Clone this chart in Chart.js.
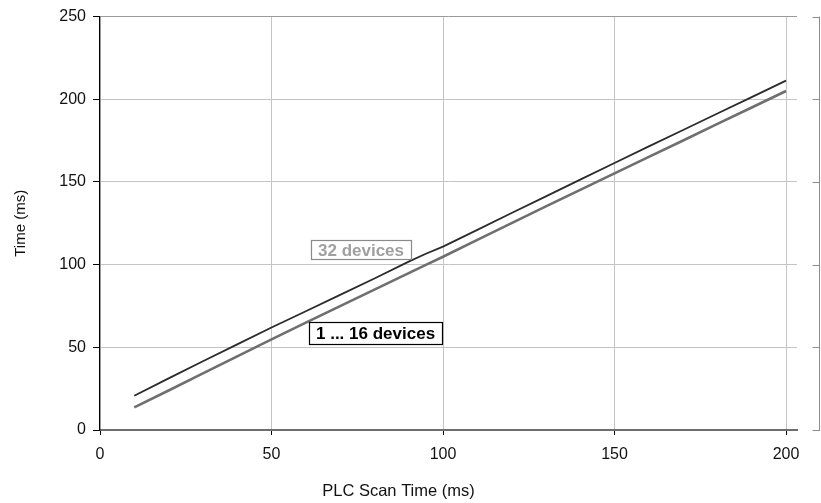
<!DOCTYPE html>
<html lang="en">
<head>
  <meta charset="UTF-8">
  <title>PLC Scan Time vs Time</title>
  <script src="https://cdn.jsdelivr.net/npm/chart.js"></script>
  <style>
    body {
      margin: 0;
      background: #fff;
    }
    .wrap {
      width: 821px;
      height: 503px;
    }
  </style>
</head>
<body>

<div class="wrap">
  <canvas id="chart" width="821" height="503"></canvas>
</div>

<script>
  // PLC scan time (ms) on the x axis
  const scanTimes = [10, 20, 30, 40, 50, 60, 70, 80, 90, 95, 100, 110, 120, 130, 140, 150, 160, 170, 180, 190, 200];
  // response time (ms) for 32 devices
  const time32 = [20.7, 31.2, 41.6, 51.8, 62.0, 71.8, 81.7, 91.6, 101.8, 106.6, 110.9, 121.0, 131.2, 141.3, 151.4, 161.5, 171.5, 181.4, 191.4, 201.3, 211.3];
  // response time (ms) for 1 ... 16 devices
  const time16 = [13.7, 23.9, 34.2, 44.5, 54.8, 64.9, 74.9, 84.9, 94.9, 99.9, 104.8, 115.0, 125.1, 135.2, 145.2, 155.2, 165.2, 175.1, 185.1, 195.0, 205.0];

  const xTicks = [0, 50, 100, 150, 200];
  const yTicks = [0, 50, 100, 150, 200, 250];
  const seriesNames = ['32 devices', '1 ... 16 devices'];

  const FONT = '"Liberation Sans", Arial, sans-serif';

  // boxed labels next to the lines (anchor is left edge / vertical middle, in data units)
  const boxLabels = [
    { text: seriesNames[0], x: 61.6, y: 108.7, h: 19, color: '#a0a0a0', border: '#8a8a8a' },
    { text: seriesNames[1], x: 61.0, y: 58.6, h: 22, color: '#000', border: '#000' }
  ];

  function toPoints(ys) {
    return scanTimes.map((x, i) => ({ x: x, y: ys[i] }));
  }

  const boxLabelPlugin = {
    id: 'boxLabels',
    afterDatasetsDraw(chart) {
      const c = chart.ctx;
      const xs = chart.scales.x, ys = chart.scales.y;
      c.save();
      c.font = 'bold 17px ' + FONT;
      c.textBaseline = 'middle';
      boxLabels.forEach(l => {
        const px = Math.round(xs.getPixelForValue(l.x));
        const py = Math.round(ys.getPixelForValue(l.y));
        const w = Math.round(c.measureText(l.text).width + 14);
        const top = py - Math.round(l.h / 2);
        c.fillStyle = '#fff';
        c.fillRect(px, top, w, l.h);
        c.strokeStyle = l.border;
        c.lineWidth = 1.2;
        c.strokeRect(px + 0.5, top + 0.5, w, l.h);
        c.fillStyle = l.color;
        c.fillText(l.text, px + 7, py + 1);
      });
      c.restore();
    }
  };

  // detached right-hand frame line with small inward ticks
  const rightFramePlugin = {
    id: 'rightFrame',
    afterDraw(chart) {
      const c = chart.ctx;
      const a = chart.chartArea;
      const xr = a.right + 22.5;
      c.save();
      c.strokeStyle = '#8c8c8c';
      c.lineWidth = 1;
      c.beginPath();
      c.moveTo(xr, a.top);
      c.lineTo(xr, a.bottom + 1);
      chart.scales.y.ticks.forEach(t => {
        const py = Math.round(chart.scales.y.getPixelForValue(t.value)) + 0.5;
        c.moveTo(xr - 7, py);
        c.lineTo(xr, py);
      });
      c.stroke();
      c.restore();
    }
  };

  new Chart(document.getElementById('chart'), {
    type: 'line',
    data: {
      datasets: [
        {
          label: seriesNames[0],
          data: toPoints(time32),
          borderColor: '#2b2b2b',
          borderWidth: 1.8,
          pointRadius: 0,
          tension: 0,
          fill: false
        },
        {
          label: seriesNames[1],
          data: toPoints(time16),
          borderColor: '#6f6f6f',
          borderWidth: 2.6,
          pointRadius: 0,
          tension: 0,
          fill: false
        }
      ]
    },
    options: {
      responsive: false,
      animation: false,
      layout: {
        padding: { top: 16, right: 24, left: 0, bottom: 0 }
      },
      plugins: {
        legend: { display: false },
        tooltip: { enabled: false },
        title: {
          display: true,
          position: 'bottom',
          text: 'PLC Scan Time (ms)',
          color: '#111',
          font: { family: FONT, size: 16.5, weight: 'normal' },
          padding: { top: 8, bottom: 2 }
        }
      },
      scales: {
        x: {
          type: 'linear',
          min: 0,
          max: 203.2,
          afterBuildTicks: s => { s.ticks = xTicks.map(v => ({ value: v })); },
          afterFit: s => { s.height = 43.2; },
          ticks: {
            color: '#111',
            font: { family: FONT, size: 16 },
            padding: 10,
            maxRotation: 0
          },
          grid: {
            color: '#c4c4c4',
            lineWidth: 1,
            tickLength: 5,
            tickColor: '#000'
          },
          border: { color: '#6e6e6e', width: 2 }
        },
        y: {
          min: 0,
          max: 250,
          afterBuildTicks: s => { s.ticks = yTicks.map(v => ({ value: v })); },
          afterFit: s => { s.width = 100; },
          ticks: {
            color: '#111',
            font: { family: FONT, size: 16 },
            padding: 7
          },
          grid: {
            color: ctx => ctx.tick && ctx.tick.value === 250 ? '#9a9a9a' : '#c4c4c4',
            lineWidth: 1,
            tickLength: 7,
            tickColor: '#000'
          },
          border: { color: '#000', width: 1.2 },
          title: {
            display: true,
            text: 'Time (ms)',
            color: '#111',
            font: { family: FONT, size: 15 },
            padding: { top: 12, bottom: 0 }
          }
        }
      }
    },
    plugins: [boxLabelPlugin, rightFramePlugin]
  });
</script>

</body>
</html>
